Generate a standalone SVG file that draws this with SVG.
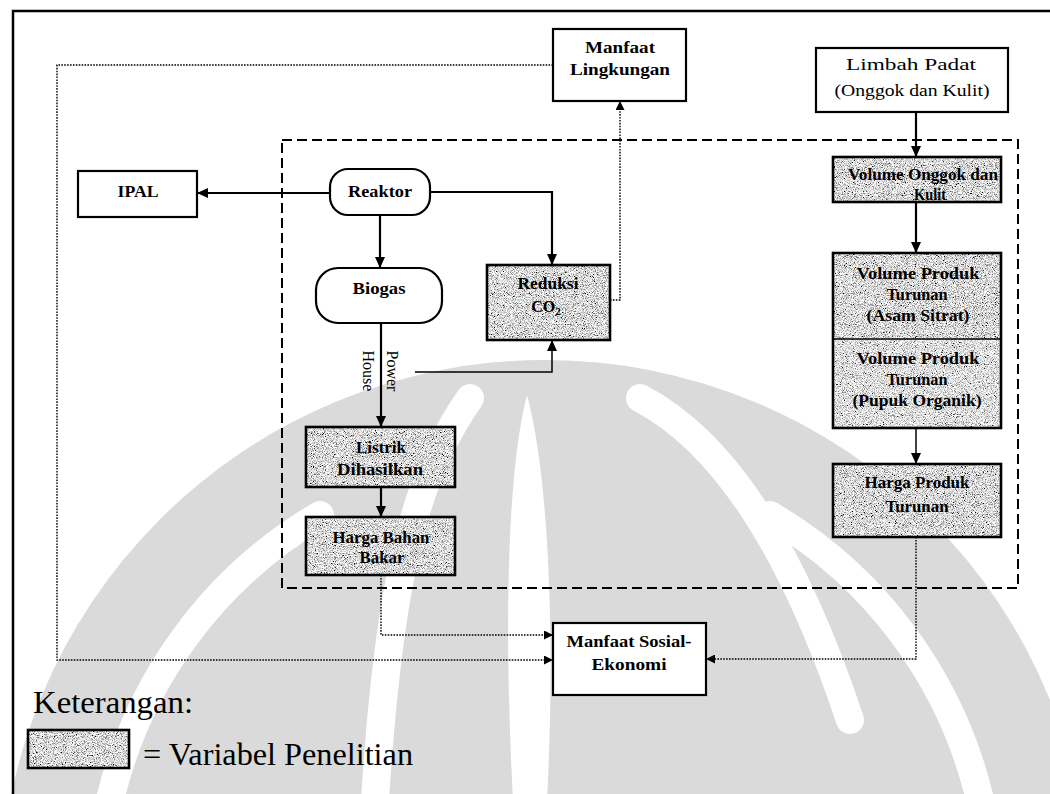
<svg xmlns="http://www.w3.org/2000/svg" width="1050" height="794" viewBox="0 0 1050 794">
  <defs>
    <style>
      .bx { fill: #fff; stroke: #000; stroke-width: 2.2; }
      .vr { fill: none; stroke: #000; stroke-width: 2.6; }
      .t { font-family: "Liberation Serif", "Times New Roman", serif; font-weight: bold; font-size: 16px; text-anchor: middle; fill: #000; }
      .tn { font-family: "Liberation Serif", "Times New Roman", serif; font-size: 16px; text-anchor: middle; fill: #000; }
      .lg { font-family: "Liberation Serif", "Times New Roman", serif; font-size: 31px; fill: #000; }
      .ln { fill: none; stroke: #000; stroke-width: 2.2; }
      .thin { fill: none; stroke: #000; stroke-width: 1.5; }
      .dot { fill: none; stroke: #000; stroke-width: 1.4; stroke-dasharray: 1.6 1.3; }
      .dash { fill: none; stroke: #000; stroke-width: 2; stroke-dasharray: 10 5; }
      .wm { fill: #dadada; }
      .gap { fill: none; stroke: #fff; stroke-linecap: round; }
    </style>
    <filter id="grain" x="0" y="0" width="1" height="1">
      <feTurbulence type="fractalNoise" baseFrequency="1.1" numOctaves="2" seed="7" result="n"/>
      <feColorMatrix in="n" type="matrix" values="2.6 0 0 0 -0.6  2.6 0 0 0 -0.6  2.6 0 0 0 -0.6  0 0 0 0 1" result="g"/>
      <feComposite in="g" in2="SourceGraphic" operator="in"/>
    </filter>
    <marker id="ah" markerUnits="userSpaceOnUse" markerWidth="12" markerHeight="10" refX="11" refY="5" orient="auto">
      <path d="M0,0 L11,5 L0,10 Z" fill="#000"/>
    </marker>
    <marker id="ahs" markerUnits="userSpaceOnUse" markerWidth="10" markerHeight="9" refX="9" refY="4.5" orient="auto">
      <path d="M0,0 L9,4.5 L0,9 Z" fill="#000"/>
    </marker>
  </defs>

  <rect width="1050" height="794" fill="#fff"/>

  <!-- faint emblem in the background -->
  <g id="emblem">
    <circle class="wm" cx="545" cy="905" r="545"/>
    <path class="gap" stroke-width="28" d="M110,800 A450,450 0 0 1 320,515"/>
    <path class="gap" stroke-width="28" d="M980,800 A450,450 0 0 0 770,515"/>
    <path class="gap" stroke-width="28" d="M470,398 C420,470 390,560 375,800"/>
    <path class="gap" stroke-width="28" d="M640,398 C720,440 790,540 850,720"/>
    <path d="M527,395 C505,480 505,650 513,800 L547,800 C555,650 550,480 527,395 Z" fill="#fff"/>
  </g>

  <!-- page frame -->
  <path d="M13,794 V11 H1050" fill="none" stroke="#000" stroke-width="2.5"/>

  <!-- research boundary -->
  <rect class="dash" x="282" y="140" width="736" height="448"/>

  <g id="connectors">
    <path class="ln" d="M330,193 H197" marker-end="url(#ah)"/>
    <path class="ln" d="M380,215 V268" marker-end="url(#ah)"/>
    <path class="ln" d="M430,192 H552 V265" marker-end="url(#ah)"/>
    <path class="ln" d="M381,323 V427" marker-end="url(#ah)"/>
    <path class="thin" d="M415,372 H552 V340" marker-end="url(#ah)"/>
    <path class="ln" d="M381,487 V517" marker-end="url(#ah)"/>
    <path class="ln" d="M916,112 V157" marker-end="url(#ah)"/>
    <path class="ln" d="M916,202 V253" marker-end="url(#ah)"/>
    <path class="thin" d="M916,428 V464" marker-end="url(#ah)"/>
    <path class="dot" d="M610,300 H620 V101" marker-end="url(#ahs)"/>
    <path class="dot" d="M553,65 H57 V660 H553" marker-end="url(#ahs)"/>
    <path class="dot" d="M381,575 V635 H553" marker-end="url(#ahs)"/>
    <path class="dot" d="M916,537 V659 H706" marker-end="url(#ahs)"/>
    <text class="tn" font-size="15" transform="translate(392,371) rotate(90)" dy="5">Power</text>
    <text class="tn" font-size="15" transform="translate(368,371) rotate(90)" dy="5">House</text>
  </g>

  <g id="n-manfaat-lingkungan">
    <rect class="bx" x="553" y="29" width="133" height="72"/>
    <text class="t" x="620" y="53" textLength="70" lengthAdjust="spacingAndGlyphs">Manfaat</text>
    <text class="t" x="620" y="75" textLength="100" lengthAdjust="spacingAndGlyphs">Lingkungan</text>
  </g>

  <g id="n-limbah-padat">
    <rect class="bx" x="816" y="48" width="192" height="64"/>
    <text class="tn" x="911" y="70" font-size="17" textLength="130" lengthAdjust="spacingAndGlyphs">Limbah Padat</text>
    <text class="tn" x="912" y="96" font-size="17" textLength="155" lengthAdjust="spacingAndGlyphs">(Onggok dan Kulit)</text>
  </g>

  <g id="n-ipal">
    <rect class="bx" x="78" y="171" width="119" height="46"/>
    <text class="t" x="138" y="197" textLength="41" lengthAdjust="spacingAndGlyphs">IPAL</text>
  </g>

  <g id="n-reaktor">
    <rect class="bx" x="330" y="169" width="100" height="46" rx="18"/>
    <text class="t" x="380" y="197" textLength="64" lengthAdjust="spacingAndGlyphs">Reaktor</text>
  </g>

  <g id="n-biogas">
    <rect class="bx" x="316" y="268" width="126" height="55" rx="22"/>
    <text class="t" x="379" y="294" textLength="53" lengthAdjust="spacingAndGlyphs">Biogas</text>
  </g>

  <g id="n-reduksi">
    <rect x="487" y="265" width="123" height="75" fill="#000" filter="url(#grain)"/>
    <rect class="vr" x="487" y="265" width="123" height="75"/>
    <text class="t" x="548" y="289" textLength="61" lengthAdjust="spacingAndGlyphs">Reduksi</text>
    <text class="t" x="546" y="312">CO<tspan font-size="11" dy="3">2</tspan></text>
  </g>

  <g id="n-listrik">
    <rect x="306" y="427" width="149" height="60" fill="#000" filter="url(#grain)"/>
    <rect class="vr" x="306" y="427" width="149" height="60"/>
    <text class="t" x="381" y="453" textLength="50" lengthAdjust="spacingAndGlyphs">Listrik</text>
    <text class="t" x="380" y="475" textLength="86" lengthAdjust="spacingAndGlyphs">Dihasilkan</text>
  </g>

  <g id="n-harga-bahan-bakar">
    <rect x="306" y="517" width="149" height="58" fill="#000" filter="url(#grain)"/>
    <rect class="vr" x="306" y="517" width="149" height="58"/>
    <text class="t" x="381" y="543" textLength="97" lengthAdjust="spacingAndGlyphs">Harga Bahan</text>
    <text class="t" x="382" y="563" textLength="45" lengthAdjust="spacingAndGlyphs">Bakar</text>
  </g>

  <g id="n-volume-onggok">
    <rect x="833" y="157" width="168" height="45" fill="#000" filter="url(#grain)"/>
    <rect class="vr" x="833" y="157" width="168" height="45"/>
    <text class="t" x="923" y="180" textLength="150" lengthAdjust="spacingAndGlyphs">Volume Onggok dan</text>
    <text class="t" x="930" y="200" textLength="32" lengthAdjust="spacingAndGlyphs">Kulit</text>
  </g>

  <g id="n-volume-produk">
    <rect x="833" y="253" width="168" height="86" fill="#000" filter="url(#grain)"/>
    <rect x="833" y="339" width="168" height="89" fill="#000" filter="url(#grain)" opacity="0.85"/>
    <rect class="vr" x="833" y="253" width="168" height="175"/>
    <line x1="833" y1="339" x2="1001" y2="339" stroke="#000" stroke-width="1.5"/>
    <text class="t" x="918" y="279" textLength="123" lengthAdjust="spacingAndGlyphs">Volume Produk</text>
    <text class="t" x="917" y="300" textLength="61" lengthAdjust="spacingAndGlyphs">Turunan</text>
    <text class="t" x="918" y="321" textLength="103" lengthAdjust="spacingAndGlyphs">(Asam Sitrat)</text>
    <text class="t" x="918" y="364" textLength="123" lengthAdjust="spacingAndGlyphs">Volume Produk</text>
    <text class="t" x="917" y="385" textLength="61" lengthAdjust="spacingAndGlyphs">Turunan</text>
    <text class="t" x="917" y="406" textLength="129" lengthAdjust="spacingAndGlyphs">(Pupuk Organik)</text>
  </g>

  <g id="n-harga-produk">
    <rect x="833" y="464" width="168" height="73" fill="#000" filter="url(#grain)"/>
    <rect class="vr" x="833" y="464" width="168" height="73"/>
    <text class="t" x="917" y="488" textLength="105" lengthAdjust="spacingAndGlyphs">Harga Produk</text>
    <text class="t" x="917" y="512" textLength="63" lengthAdjust="spacingAndGlyphs">Turunan</text>
  </g>

  <g id="n-manfaat-sosial">
    <rect class="bx" x="553" y="623" width="153" height="72"/>
    <text class="t" x="629" y="647" textLength="125" lengthAdjust="spacingAndGlyphs">Manfaat Sosial-</text>
    <text class="t" x="629" y="670" textLength="75" lengthAdjust="spacingAndGlyphs">Ekonomi</text>
  </g>

  <g id="legend">
    <text class="lg" x="33" y="713" textLength="160" lengthAdjust="spacingAndGlyphs">Keterangan:</text>
    <rect x="28" y="730" width="101" height="38" fill="#000" filter="url(#grain)"/>
    <rect class="vr" x="28" y="730" width="101" height="38"/>
    <text class="lg" x="143" y="765" font-size="32" textLength="270" lengthAdjust="spacingAndGlyphs">= Variabel Penelitian</text>
  </g>
</svg>
